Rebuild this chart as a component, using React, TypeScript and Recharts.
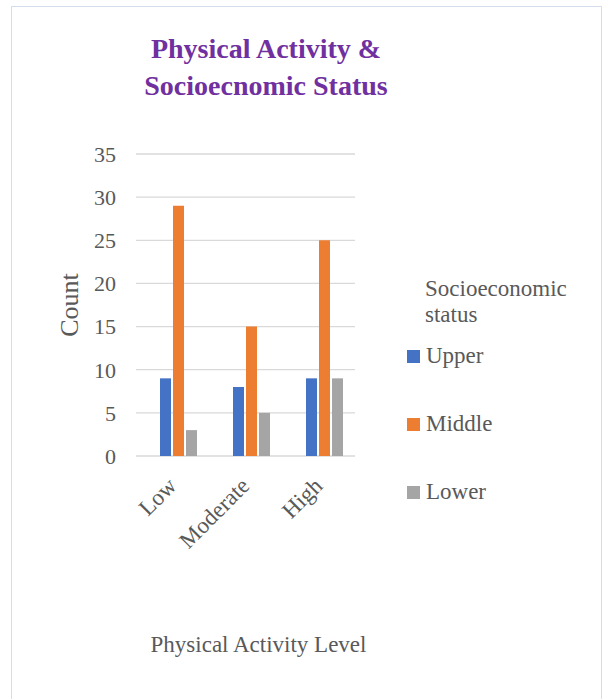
import React from "react";
import {
  BarChart,
  Bar,
  XAxis,
  YAxis,
  CartesianGrid,
} from "recharts";

const FONT = '"Liberation Serif", "Times New Roman", serif';
const TEXT = "#595959";

const levels = ["Low", "Moderate", "High"];
const upper = [9, 8, 9];
const middle = [29, 15, 25];
const lower = [3, 5, 9];
const yTicks = [0, 5, 10, 15, 20, 25, 30, 35];

const seriesNames = ["Upper", "Middle", "Lower"];
const seriesColors = ["#4472C4", "#ED7D31", "#A5A5A5"];

const data = levels.map((level, i) => ({
  level,
  Upper: upper[i],
  Middle: middle[i],
  Lower: lower[i],
}));

const XTick = ({ x, y, payload }: any) => {
  const ax = x - 6;
  const ay = y + 26;
  return (
    <text
      x={ax}
      y={ay}
      transform={`rotate(-45 ${ax} ${ay})`}
      textAnchor="end"
      dominantBaseline="central"
      fill={TEXT}
      fontSize={23}
      fontFamily={FONT}
    >
      {payload.value}
    </text>
  );
};

const LegendBox = () => (
  <div
    style={{
      position: "absolute",
      left: 405,
      top: 276,
      width: 190,
      fontFamily: FONT,
      color: TEXT,
      fontSize: 23,
    }}
  >
    <div style={{ lineHeight: "26px", marginLeft: 20 }}>
      Socioeconomic
      <br />
      status
    </div>
    <div style={{ marginTop: 14 }}>
      {seriesNames.map((name, i) => (
        <div
          key={name}
          style={{
            display: "flex",
            alignItems: "center",
            height: 28,
            marginBottom: 40,
          }}
        >
          <span
            style={{
              display: "inline-block",
              width: 13,
              height: 13,
              marginLeft: 2,
              marginRight: 6,
              background: seriesColors[i],
            }}
          />
          <span>{name}</span>
        </div>
      ))}
    </div>
  </div>
);

export default function App() {
  return (
    <div
      style={{
        position: "absolute",
        left: 0,
        top: 0,
        width: 602,
        height: 699,
        background: "#fff",
        overflow: "hidden",
      }}
    >
      <div
        style={{
          position: "absolute",
          left: 11,
          top: 6,
          width: 589,
          height: 700,
          border: "1px solid #d3ddee",
        }}
      />
      <div
        style={{
          position: "absolute",
          left: 0,
          top: 30,
          width: 532,
          textAlign: "center",
          fontFamily: FONT,
          fontWeight: "bold",
          fontSize: 28,
          lineHeight: "37px",
          color: "#7030A0",
        }}
      >
        Physical Activity &amp;
        <br />
        Socioecnomic Status
      </div>
      <div style={{ position: "absolute", left: 0, top: 0 }}>
        <BarChart
          width={602}
          height={699}
          data={data}
          margin={{ top: 154, right: 241, left: 0, bottom: 0 }}
          barSize={11}
          barGap={2}
        >
          <CartesianGrid
            vertical={false}
            stroke="#d9d9d9"
            strokeWidth={1.3}
            x={136}
            width={219}
          />
          <XAxis
            dataKey="level"
            height={243}
            axisLine={false}
            tickLine={false}
            tickSize={0}
            tickMargin={0}
            interval={0}
            tick={<XTick />}
            label={{
              value: "Physical Activity Level",
              position: "insideBottom",
              offset: 47,
              dx: 7,
              fill: TEXT,
              fontSize: 23,
              fontFamily: FONT,
            }}
          />
          <YAxis
            width={142}
            domain={[0, 35]}
            ticks={yTicks}
            axisLine={false}
            tickLine={false}
            tickSize={0}
            tickMargin={26}
            tick={{ fill: TEXT, fontSize: 22, fontFamily: FONT }}
            label={{
              content: ({ viewBox }: any) => {
                const cx = viewBox.x + viewBox.width / 2 - 2;
                const cy = viewBox.y + viewBox.height / 2;
                return (
                  <text
                    x={cx}
                    y={cy}
                    transform={`rotate(-90 ${cx} ${cy})`}
                    textAnchor="middle"
                    dominantBaseline="central"
                    fill={TEXT}
                    fontSize={26}
                    fontFamily={FONT}
                  >
                    Count
                  </text>
                );
              },
            }}
          />
          {seriesNames.map((name, i) => (
            <Bar
              key={name}
              dataKey={name}
              fill={seriesColors[i]}
              isAnimationActive={false}
            />
          ))}
        </BarChart>
      </div>
      <LegendBox />
    </div>
  );
}
